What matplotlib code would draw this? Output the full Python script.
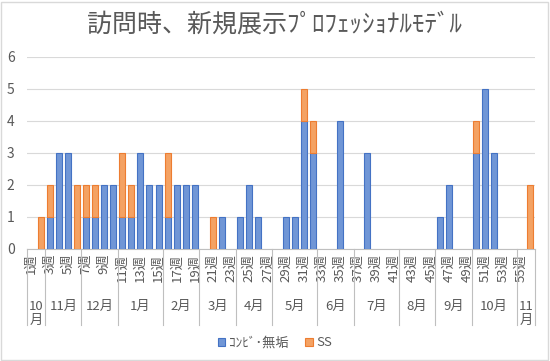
import numpy as np
import matplotlib
matplotlib.use("Agg")
import matplotlib.pyplot as plt
from matplotlib.patches import Rectangle
import matplotlib.transforms as mtransforms

plt.rcParams['font.family'] = ['Noto Sans CJK JP', 'DejaVu Sans']

title = "訪問時、新規展示ﾌﾟﾛﾌｪｯｼｮﾅﾙﾓﾃﾞﾙ"
series_names = ["ｺﾝﾋﾞ･無垢", "SS"]
week_numbers = list(range(1, 57))
week_labels = [f"{n}週" for n in week_numbers]

konbi = [0, 0, 1, 3, 3, 0, 1, 1, 2, 2,
         1, 1, 3, 2, 2, 1, 2, 2, 2, 0,
         0, 1, 0, 1, 2, 1, 0, 0, 1, 1,
         4, 3, 0, 0, 4, 0, 0, 3, 0, 0,
         0, 0, 0, 0, 0, 1, 2, 0, 0, 3,
         5, 3, 0, 0, 0, 0]
ss = [0, 1, 1, 0, 0, 2, 1, 1, 0, 0,
      2, 1, 0, 0, 0, 2, 0, 0, 0, 0,
      1, 0, 0, 0, 0, 0, 0, 0, 0, 0,
      1, 1, 0, 0, 0, 0, 0, 0, 0, 0,
      0, 0, 0, 0, 0, 0, 0, 0, 0, 1,
      0, 0, 0, 0, 0, 2]

months = ["10月", "11月", "12月", "1月", "2月", "3月", "4月",
          "5月", "6月", "7月", "8月", "9月", "10月", "11月"]
month_weeks = [2, 4, 4, 5, 4, 4, 4, 5, 4, 5, 4, 4, 5, 2]

W, H = 550, 361
fig = plt.figure(figsize=(W / 100, H / 100), dpi=100)
fig.patch.set_facecolor('white')
fig.patches.append(Rectangle((1 / W, 1 / H), (W - 3) / W, (H - 3) / H,
                             transform=fig.transFigure, fill=False,
                             edgecolor='#D9D9D9', linewidth=1))

L, R, T, B = 27, 535, 57, 249
ax = fig.add_axes([L / W, 1 - B / H, (R - L) / W, (B - T) / H])

x = np.arange(len(week_numbers))
k = np.array(konbi, dtype=float)
s = np.array(ss, dtype=float)
kd = np.where(k > 0, k, np.nan)
sd = np.where(s > 0, s, np.nan)
bw = 0.66
ax.bar(x, kd, width=bw, color='#7096D6', edgecolor='#4472C4', linewidth=0.8,
       label=series_names[0], zorder=3)
ax.bar(x, sd, width=bw, bottom=k, color='#F4A263', edgecolor='#ED7D31',
       linewidth=0.8, label=series_names[1], zorder=3)

ax.set_xlim(-0.5, len(x) - 0.5)
ax.set_ylim(0, 6)
ax.set_yticks(range(0, 7))
ax.grid(axis='y', color='#D9D9D9', linewidth=0.8, zorder=0)
ax.set_axisbelow(True)
for sp in ['top', 'right', 'left']:
    ax.spines[sp].set_visible(False)
ax.spines['bottom'].set_color('#BFBFBF')
ax.tick_params(axis='y', length=0, labelsize=10, labelcolor='#595959', pad=9)
ax.set_xticks(x[::2])
ax.set_xticklabels(week_labels[::2], rotation=90, fontsize=9.5, color='#595959')
ax.tick_params(axis='x', length=0, pad=3.5)

# month grouping
trans = mtransforms.blended_transform_factory(ax.transData, ax.transAxes)
y_line_bottom = (B - 325) / (B - T)
y_month = (B - 300) / (B - T)
edges = np.concatenate([[0], np.cumsum(month_weeks)]) - 0.5
for e in edges:
    ax.plot([e, e], [0, y_line_bottom], transform=trans, color='#BFBFBF',
            linewidth=0.8, clip_on=False)
for i, m in enumerate(months):
    c = (edges[i] + edges[i + 1]) / 2
    txt = m if month_weeks[i] > 2 else m[:-1] + "\n" + m[-1]
    ax.text(c, y_month, txt, transform=trans, ha='center', va='top',
            fontsize=9.5, color='#595959', linespacing=1.05)

fig.text(0.5, 1 - 25 / H, title, ha='center', va='center', fontsize=18,
         color='#595959')

fig.legend(loc='center', bbox_to_anchor=(0.5, 1 - 343 / H), ncol=2,
           frameon=False, fontsize=9.5, handlelength=0.6, handleheight=0.6,
           handletextpad=0.3, columnspacing=1.2, labelcolor='#595959')

fig.savefig('out.png', dpi=100)
